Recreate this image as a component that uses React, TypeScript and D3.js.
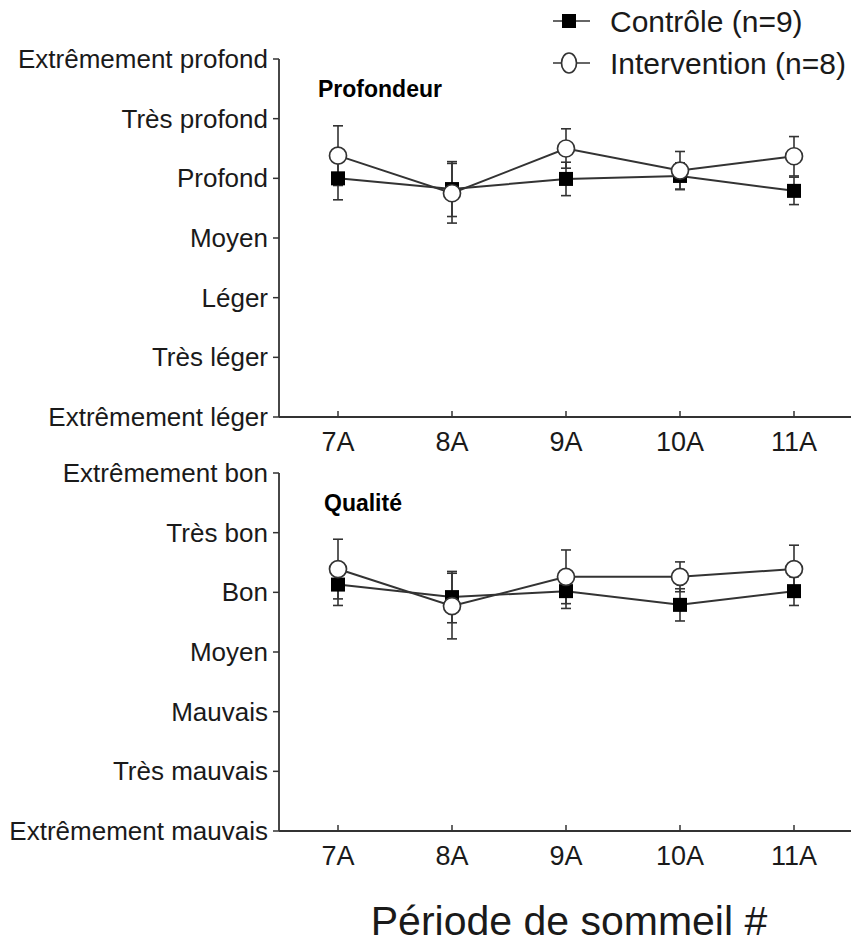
import React from "react";
import * as d3 from "d3";

// Sleep periods on the x axis
const periods = ["7A", "8A", "9A", "10A", "11A"];

// Rating scales (1 = lowest, 7 = highest)
const depthLabels = [
  "Extrêmement léger",
  "Très léger",
  "Léger",
  "Moyen",
  "Profond",
  "Très profond",
  "Extrêmement profond",
];
const qualityLabels = [
  "Extrêmement mauvais",
  "Très mauvais",
  "Mauvais",
  "Moyen",
  "Bon",
  "Très bon",
  "Extrêmement bon",
];

// Depth: means and standard errors
const depthControl = [5.0, 4.82, 4.99, 5.04, 4.79];
const depthControlErr = [0.36, 0.46, 0.28, 0.22, 0.23];
const depthIntervention = [5.38, 4.75, 5.5, 5.13, 5.37];
const depthInterventionErr = [0.5, 0.5, 0.33, 0.32, 0.33];

// Quality: means and standard errors
const qualityControl = [5.13, 4.92, 5.02, 4.79, 5.02];
const qualityControlErr = [0.35, 0.43, 0.29, 0.27, 0.24];
const qualityIntervention = [5.39, 4.77, 5.26, 5.26, 5.39];
const qualityInterventionErr = [0.5, 0.55, 0.45, 0.25, 0.4];

const legendLabels = ["Contrôle (n=9)", "Intervention (n=8)"];
const panelTitles = ["Profondeur", "Qualité"];
const xTitle = "Période de sommeil #";

const W = 851;
const H = 943;
const FONT = "'Liberation Sans', Arial, Helvetica, sans-serif";
const INK = "#1a1a1a";
const LINE = "#333";

const axisLeft = 279;
const axisRight = 851;

const x = d3.scalePoint<string>().domain(periods).range([338, 794]);

type Series = { mean: number[]; err: number[]; kind: "square" | "circle" };

function Marker({ kind, cx, cy }: { kind: "square" | "circle"; cx: number; cy: number }) {
  if (kind === "square") {
    return <rect x={cx - 7} y={cy - 7} width={14} height={14} fill="#000" />;
  }
  return <circle cx={cx} cy={cy} r={8.5} fill="#fff" stroke={LINE} strokeWidth={1.7} />;
}

function Panel({
  top,
  bottom,
  labels,
  title,
  titleX,
  series,
}: {
  top: number;
  bottom: number;
  labels: string[];
  title: string;
  titleX: number;
  series: Series[];
}) {
  const y = d3.scaleLinear().domain([1, 7]).range([bottom, top]);
  const ticks = d3.range(1, 8);
  const line = d3
    .line<number>()
    .x((_, i) => x(periods[i]) as number)
    .y((v) => y(v));

  return (
    <g>
      {/* y axis */}
      <line x1={axisLeft} x2={axisLeft} y1={top} y2={bottom} stroke={LINE} strokeWidth={1.8} />
      {ticks.map((t, i) => (
        <g key={t}>
          <line x1={axisLeft - 6} x2={axisLeft} y1={y(t)} y2={y(t)} stroke={LINE} strokeWidth={1.5} />
          <text
            x={axisLeft - 11}
            y={y(t)}
            dy="0.35em"
            textAnchor="end"
            fontFamily={FONT}
            fontSize={26}
            fill={INK}
          >
            {labels[i]}
          </text>
        </g>
      ))}
      {/* x axis */}
      <line x1={axisLeft} x2={axisRight} y1={bottom} y2={bottom} stroke={LINE} strokeWidth={1.8} />
      {periods.map((p) => (
        <g key={p}>
          <line x1={x(p)} x2={x(p)} y1={bottom - 6} y2={bottom} stroke={LINE} strokeWidth={1.5} />
          <text
            x={x(p)}
            y={bottom + 34}
            textAnchor="middle"
            fontFamily={FONT}
            fontSize={27}
            fill={INK}
          >
            {p}
          </text>
        </g>
      ))}
      <text x={titleX} y={top + 38} fontFamily={FONT} fontWeight="bold" fontSize={23} fill="#000">
        {title}
      </text>
      {/* connecting lines */}
      {series.map((s, si) => (
        <path key={"l" + si} d={line(s.mean) || ""} fill="none" stroke={LINE} strokeWidth={2} />
      ))}
      {/* error bars */}
      {series.map((s, si) =>
        s.mean.map((m, i) => {
          const cx = x(periods[i]) as number;
          const y1 = y(m + s.err[i]);
          const y2 = y(m - s.err[i]);
          return (
            <g key={"e" + si + i} stroke={LINE} strokeWidth={1.6}>
              <line x1={cx} x2={cx} y1={y1} y2={y2} />
              <line x1={cx - 5} x2={cx + 5} y1={y1} y2={y1} />
              <line x1={cx - 5} x2={cx + 5} y1={y2} y2={y2} />
            </g>
          );
        })
      )}
      {/* markers */}
      {series.map((s, si) =>
        s.mean.map((m, i) => (
          <Marker key={"m" + si + i} kind={s.kind} cx={x(periods[i]) as number} cy={y(m)} />
        ))
      )}
    </g>
  );
}

export default function App() {
  return (
    <svg
      width={W}
      height={H}
      style={{ display: "block", position: "absolute", left: 0, top: 0, background: "#fff" }}
    >
      {/* legend */}
      <g>
        <line x1={553} x2={590} y1={21} y2={21} stroke={LINE} strokeWidth={1.7} />
        <Marker kind="square" cx={569} cy={21} />
        <text x={610} y={32} fontFamily={FONT} fontSize={30} fill={INK}>
          {legendLabels[0]}
        </text>
        <line x1={553} x2={590} y1={63} y2={63} stroke={LINE} strokeWidth={1.7} />
        <ellipse cx={569} cy={63} rx={7.5} ry={10} fill="#fff" stroke={LINE} strokeWidth={1.7} />
        <text x={610} y={74} fontFamily={FONT} fontSize={30} fill={INK}>
          {legendLabels[1]}
        </text>
      </g>
      <Panel
        top={59}
        bottom={417}
        labels={depthLabels}
        title={panelTitles[0]}
        titleX={318}
        series={[
          { mean: depthControl, err: depthControlErr, kind: "square" },
          { mean: depthIntervention, err: depthInterventionErr, kind: "circle" },
        ]}
      />
      <Panel
        top={473}
        bottom={831}
        labels={qualityLabels}
        title={panelTitles[1]}
        titleX={324}
        series={[
          { mean: qualityControl, err: qualityControlErr, kind: "square" },
          { mean: qualityIntervention, err: qualityInterventionErr, kind: "circle" },
        ]}
      />
      <text x={569} y={935} textAnchor="middle" fontFamily={FONT} fontSize={41} fill={INK}>
        {xTitle}
      </text>
    </svg>
  );
}
